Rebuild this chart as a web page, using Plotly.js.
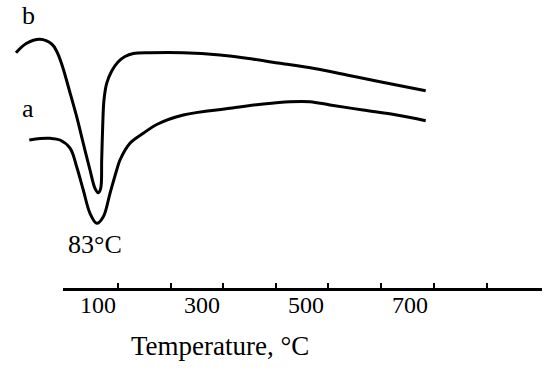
<!DOCTYPE html>
<html>
<head>
<meta charset="utf-8">
<script src="https://cdn.plot.ly/plotly-3.0.1.min.js"></script>
<style>html,body{margin:0;padding:0;background:#fff;}#chart{width:550px;height:372px;}</style>
</head>
<body>
<div id="chart"></div>
<script>
// Temperature (°C) and DTA signal (arbitrary units)
const tempB = [-57.9,-37.3,-11.7,10.8,21.0,30.6,46.3,58.8,71.5,84.4,94.0,100.4,105.0,106.9,108.8,111.3,116.5,126.2,138.3,151.7,167.7,199.8,263.3,334.4,385.8,449.8,513.3,578.1,642.1,730.0];
const signalB = [247.3,256.7,260.7,256,248,235,206.7,183.3,156.7,130,111.7,107.3,111.7,140,173.3,200,216.7,229,238,243.5,246.5,247.3,247.3,245,241.7,236.7,231.7,225,218.3,209.3];
const tempA = [-32.3,-11.7,7.5,26.7,46.3,58.8,71.5,84.4,97.3,110.0,122.9,135.8,142.1,161.3,186.9,212.7,263.8,353.7,417.7,469.0,507.5,546.0,609.4,674.2,730.0];
const signalA = [160,161.5,161.7,160,151.7,133.3,110,86.7,76.7,83.3,106.7,130,140,156.7,166.7,175.5,185,191.7,196,198.3,198.3,195,190,185,179.3];
const tickLabels = [100,300,500,700];
const tickMarks = [139,240,341,442,543,644,746,847];

const font = 'Liberation Serif, Times New Roman, serif';
const line = {color:'#000', width:3, shape:'spline', smoothing:1};

const traces = [
  {x:tempB, y:signalB, mode:'lines', line:line, hoverinfo:'skip', xaxis:'x', yaxis:'y'},
  {x:tempA, y:signalA, mode:'lines', line:line, hoverinfo:'skip', xaxis:'x', yaxis:'y'},
  {x:[null], y:[null], mode:'lines', hoverinfo:'skip', xaxis:'x2', yaxis:'y'}
];

const layout = {
  width:550, height:372,
  margin:{l:0, r:0, t:0, b:84},
  paper_bgcolor:'#fff', plot_bgcolor:'rgba(0,0,0,0)',
  showlegend:false,
  font:{family:font, color:'#000', size:24},
  xaxis:{domain:[0,1], range:[-88.65,969.04], showline:false, ticks:'', zeroline:false, showgrid:false,
         tickmode:'array', tickvals:tickLabels, ticktext:tickLabels.map(String),
         tickfont:{family:font, size:24, color:'#000'}, anchor:'y'},
  xaxis2:{domain:[63/550,542/550], range:[32.5,953.65], anchor:'y', showline:true, linecolor:'#000', linewidth:2.5,
          ticks:'inside', ticklen:5, tickwidth:2, tickcolor:'#000', tickmode:'array', tickvals:tickMarks,
          showticklabels:false, zeroline:false, showgrid:false},
  yaxis:{range:[12,300], visible:false, showgrid:false, zeroline:false},
  annotations:[
    {text:'b', x:20/550, y:285, xref:'paper', yref:'y', showarrow:false, font:{family:font, size:26, color:'#000'}},
    {text:'a', x:19.5/550, y:191.5, xref:'paper', yref:'y', showarrow:false, font:{family:font, size:26, color:'#000'}},
    {text:'83°C', x:94, y:56, xref:'x', yref:'y', showarrow:false, font:{family:font, size:26, color:'#000'}},
    {text:'Temperature, °C', x:220/550, y:-0.26, xref:'paper', yref:'paper', showarrow:false, font:{family:font, size:27, color:'#000'}}
  ]
};

Plotly.newPlot('chart', traces, layout, {staticPlot:true, displayModeBar:false});
</script>
</body>
</html>
